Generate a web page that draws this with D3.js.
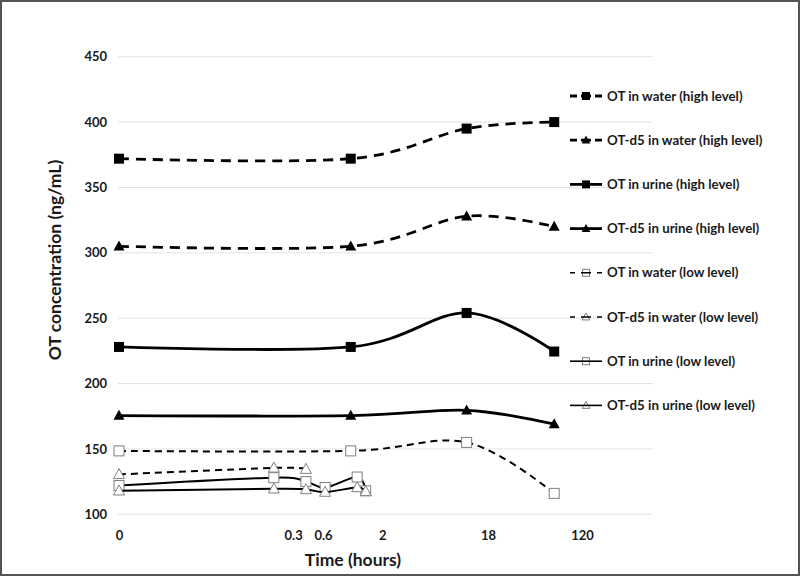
<!DOCTYPE html>
<html>
<head>
<meta charset="utf-8">
<script src="https://cdn.jsdelivr.net/npm/d3@7/dist/d3.min.js"></script>
<style>
  body { margin: 0; background: #fff; }
  text { font-family: Lato, "Open Sans", sans-serif; font-weight: bold; }
</style>
</head>
<body>
<div id="chart"></div>
<script>
// x values are positions on the chart's (non-linear, hand-labelled) time axis
const highX = [0, 43.4, 65.1, 81.5];
const otWaterHigh = [372, 372, 395, 400];
const d5WaterHigh = [305, 305, 328, 320];
const otUrineHigh = [228, 228, 254, 224.5];
const d5UrineHigh = [175.5, 175.5, 179.5, 169];
const otWaterLow = [148.5, 148.5, 155, 116];
const d5WaterLowX = [0, 29, 35];
const d5WaterLow = [130.5, 135.5, 134.5];
const urineLowX = [0, 29, 35, 38.6, 44.6, 46.2];
const otUrineLow = [122, 128, 125, 120.5, 128.5, 118];
const d5UrineLow = [118, 119.5, 119, 117, 120.5, 117.5];

const seriesNames = [
    "OT in water (high level)",
    "OT-d5 in water (high level)",
    "OT in urine (high level)",
    "OT-d5 in urine (high level)",
    "OT in water (low level)",
    "OT-d5 in water (low level)",
    "OT in urine (low level)",
    "OT-d5 in urine (low level)"
];

const yTicks = [100, 150, 200, 250, 300, 350, 400, 450];
const xTickPos = [0, 32.6, 38.2, 49.3, 69.1, 86.7];
const xTickLabels = ["0", "0.3", "0.6", "2", "18", "120"];

const series = [
    { xs: highX, ys: otWaterHigh, dash: true, shape: "square", filled: true },
    { xs: highX, ys: d5WaterHigh, dash: true, shape: "triangle", filled: true },
    { xs: highX, ys: otUrineHigh, dash: false, shape: "square", filled: true },
    { xs: highX, ys: d5UrineHigh, dash: false, shape: "triangle", filled: true },
    { xs: highX, ys: otWaterLow, dash: true, shape: "square", filled: false },
    { xs: d5WaterLowX, ys: d5WaterLow, dash: true, shape: "triangle", filled: false },
    { xs: urineLowX, ys: otUrineLow, dash: false, shape: "square", filled: false },
    { xs: urineLowX, ys: d5UrineLow, dash: false, shape: "triangle", filled: false }
].map((s, i) => ({ ...s, name: seriesNames[i] }));

const width = 800, height = 577;
const plot = { left: 119, right: 653, top: 56.7, bottom: 514.3 };

const svg = d3.select("#chart").append("svg")
    .attr("width", width)
    .attr("height", height);

svg.append("rect")
    .attr("x", 1).attr("y", 1)
    .attr("width", width - 2).attr("height", height - 3)
    .attr("fill", "#fff")
    .attr("stroke", "#555")
    .attr("stroke-width", 2);

const x = d3.scaleLinear().domain([0, 100]).range([plot.left, plot.right]);
const y = d3.scaleLinear().domain([100, 450]).range([plot.bottom, plot.top]);

// gridlines
svg.append("g")
    .selectAll("line")
    .data(yTicks)
    .join("line")
    .attr("x1", plot.left - 1)
    .attr("x2", plot.right)
    .attr("y1", d => y(d))
    .attr("y2", d => y(d))
    .attr("stroke", "#e3e3e3")
    .attr("stroke-width", 1);

// y axis
svg.append("g")
    .attr("transform", `translate(${plot.left - 12},0)`)
    .call(d3.axisLeft(y).tickValues(yTicks).tickSize(0).tickPadding(0))
    .call(g => g.select(".domain").remove())
    .call(g => g.selectAll("text")
        .attr("font-size", 13)
        .attr("font-family", "Lato, sans-serif")
        .attr("font-weight", "bold")
        .attr("fill", "#1a1a1a"));

// x axis (hand-placed labels)
svg.append("g")
    .attr("transform", `translate(0,${plot.bottom + 16})`)
    .call(d3.axisBottom(x).tickValues(xTickPos).tickFormat((d, i) => xTickLabels[i]).tickSize(0).tickPadding(0))
    .call(g => g.select(".domain").remove())
    .call(g => g.selectAll("text")
        .attr("font-size", 13)
        .attr("font-family", "Lato, sans-serif")
        .attr("font-weight", "bold")
        .attr("fill", "#1a1a1a"));

// axis titles
svg.append("text")
    .attr("transform", `translate(61,260) rotate(-90)`)
    .attr("text-anchor", "middle")
    .attr("font-size", 17.5)
    .attr("fill", "#1a1a1a")
    .text("OT concentration (ng/mL)");

svg.append("text")
    .attr("x", 353)
    .attr("y", 566)
    .attr("text-anchor", "middle")
    .attr("font-size", 17.5)
    .attr("fill", "#1a1a1a")
    .text("Time (hours)");

function drawMarker(g, s, size) {
    const color = s.filled ? "#000" : "#7f7f7f";
    if (s.shape === "square") {
        g.append("rect")
            .attr("x", -size / 2).attr("y", -size / 2)
            .attr("width", size).attr("height", size)
            .attr("fill", s.filled ? "#000" : "#fff")
            .attr("stroke", color)
            .attr("stroke-width", s.filled ? 0 : 1);
    } else {
        const h = size;
        g.append("path")
            .attr("d", `M0,${-h * 0.58}L${h * 0.55},${h * 0.42}L${-h * 0.55},${h * 0.42}Z`)
            .attr("fill", s.filled ? "#000" : "#fff")
            .attr("stroke", color)
            .attr("stroke-width", s.filled ? 0 : 1);
    }
}

const line = d3.line()
    .x(d => x(d[0]))
    .y(d => y(d[1]))
    .curve(d3.curveCardinal.tension(0));

const isHigh = s => s.filled;

series.forEach(s => {
    const pts = s.xs.map((v, i) => [v, s.ys[i]]);
    const g = svg.append("g");
    g.append("path")
        .datum(pts)
        .attr("d", line)
        .attr("fill", "none")
        .attr("stroke", "#000")
        .attr("stroke-width", isHigh(s) ? 2.8 : 2)
        .attr("stroke-dasharray", s.dash ? (isHigh(s) ? "10,7" : "7,5") : null);
    g.selectAll("g")
        .data(pts)
        .join("g")
        .attr("transform", d => `translate(${x(d[0])},${y(d[1])})`)
        .each(function () { drawMarker(d3.select(this), s, 10); });
});

// legend
const legend = svg.append("g").attr("transform", "translate(570,96)");
const rowGap = 44.2;
series.forEach((s, i) => {
    const row = legend.append("g").attr("transform", `translate(0,${i * rowGap})`);
    const sample = () => row.append("line")
        .attr("x1", 0).attr("x2", 32)
        .attr("y1", 0).attr("y2", 0)
        .attr("stroke", "#000")
        .attr("stroke-width", isHigh(s) ? 2.8 : 1.6)
        .attr("stroke-dasharray", s.dash ? (isHigh(s) ? "7,4,10,4,7" : "5,6,10,6,5") : null);
    const m = row.append("g").attr("transform", "translate(16,0)");
    if (isHigh(s)) {
        sample();
        drawMarker(m, s, 8);
    } else {
        drawMarker(m, s, 7);
        sample();
    }
    row.append("text")
        .attr("x", 37)
        .attr("y", 0)
        .attr("dy", "0.35em")
        .attr("font-size", 13.3)
        .attr("fill", "#1a1a1a")
        .text(s.name);
});
</script>
</body>
</html>
